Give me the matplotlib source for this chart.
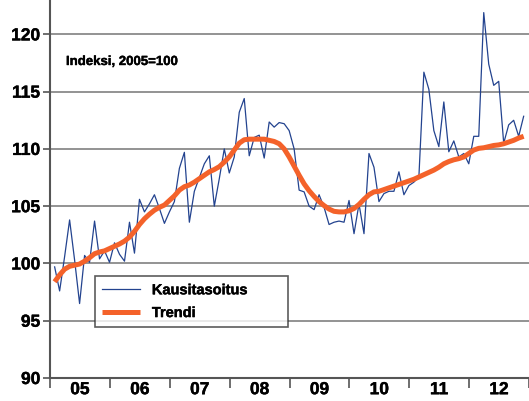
import matplotlib.pyplot as plt
from matplotlib import font_manager
import matplotlib.patheffects as pe
import numpy as np

# monthly index values, Jan 2005 .. Nov 2012
kausitasoitus = [
    99.7, 97.6, 100.6, 103.8, 100.3, 96.5, 100.7, 100.1, 103.7, 100.4, 101.1, 100.1,   # 2005
    101.8, 100.8, 100.2, 103.6, 100.9, 105.6, 104.5, 105.2, 106.0, 104.8, 103.5, 104.5,  # 2006
    105.4, 108.3, 109.7, 103.6, 106.3, 107.5, 108.7, 109.4, 105.0, 107.4, 110.0, 107.9,  # 2007
    109.3, 113.2, 114.4, 109.4, 111.0, 111.2, 109.2, 112.35, 111.9, 112.3, 112.2, 111.6,  # 2008
    110.0, 106.4, 106.25, 105.0, 104.7, 106.0, 104.9, 103.4, 103.6, 103.7, 103.6, 105.5,  # 2009
    102.6, 105.2, 102.6, 109.6, 108.4, 105.4, 106.1, 106.3, 106.3, 108.0, 106.0, 106.8,  # 2010
    107.1, 107.55, 116.7, 115.2, 111.6, 110.2, 114.1, 109.75, 110.7, 109.3, 109.6, 108.7,  # 2011
    111.1, 111.1, 121.9, 117.4, 115.55, 115.9, 110.5, 112.1, 112.5, 111.1, 112.85,  # 2012
]
trendi = [
    98.4, 99.0, 99.5, 99.75, 99.85, 99.95, 100.2, 100.5, 100.85, 101.0, 101.1, 101.3,
    101.5, 101.7, 101.95, 102.3, 102.8, 103.4, 103.9, 104.3, 104.65, 104.9, 105.1, 105.5,
    105.9, 106.4, 106.7, 106.85, 107.1, 107.4, 107.7, 108.0, 108.2, 108.45, 108.85, 109.3,
    109.9, 110.5, 110.8, 110.85, 110.85, 110.85, 110.85, 110.75, 110.65, 110.45, 110.0, 109.3,
    108.5, 107.7, 106.95, 106.35, 105.85, 105.4, 105.05, 104.75, 104.55, 104.5, 104.5, 104.6,
    104.8, 105.15, 105.6, 106.0, 106.25, 106.3, 106.45, 106.6, 106.75, 106.9, 107.05, 107.2,
    107.35, 107.55, 107.75, 107.95, 108.15, 108.4, 108.7, 108.9, 109.05, 109.15, 109.3, 109.6,
    109.9, 110.05, 110.1, 110.2, 110.3, 110.35, 110.45, 110.6, 110.75, 110.95, 111.1,
]
years = [2005, 2006, 2007, 2008, 2009, 2010, 2011, 2012]
year_labels = ["05", "06", "07", "08", "09", "10", "11", "12"]

# pick a sans family that really has a bold face
family = "DejaVu Sans"
has_bold = False
for fam in ["Liberation Sans", "Roboto", "Open Sans", "Noto Sans", "Lato"]:
    try:
        f = font_manager.findfont(font_manager.FontProperties(family=fam, weight="bold"),
                                  fallback_to_default=False)
    except Exception:
        continue
    family = fam
    has_bold = "bold" in f.lower()
    break
plt.rcParams["font.family"] = [family, "DejaVu Sans"]
plt.rcParams["font.weight"] = "bold"

# a thin stroke thickens the glyphs a bit if no real bold face is there
fat = [pe.withStroke(linewidth=0.3 if has_bold else 0.9, foreground="black")]

x = 2005 + (np.arange(len(kausitasoitus)) + 0.93) / 12

fig = plt.figure(figsize=(5.29, 4.01), dpi=100)
ax = fig.add_axes([50 / 529, 23 / 401, 479 / 529, 378 / 401])

for y in [95, 100, 105, 110, 115, 120]:
    ax.axhline(y, color="#808080", lw=1.2, zorder=1)

ax.plot(x, kausitasoitus, color="#23438f", lw=0.9, zorder=3, label="Kausitasoitus")
ax.plot(x, trendi, color="#f4622a", lw=3.6, zorder=4, solid_capstyle="butt", label="Trendi")

ax.set_xlim(2005, 2013)
ax.set_ylim(90, 123)
ax.set_yticks([90, 95, 100, 105, 110, 115, 120])
ax.tick_params(axis="y", length=5, width=1.2, color="#555555", pad=2, labelsize=12.5)

ax.set_xticks(years + [2013])
ax.set_xticklabels([])
ax.set_xticks([y + 0.5 for y in years], minor=True)
ax.set_xticklabels(year_labels, minor=True)
ax.tick_params(axis="x", which="major", length=7, width=1.2, color="#555555")
ax.tick_params(axis="x", which="minor", length=0, pad=3, labelsize=12.5)
for lab in ax.get_yticklabels() + ax.get_xticklabels(minor=True):
    lab.set_fontweight("bold")
    lab.set_path_effects(fat)

for s in ["top", "right"]:
    ax.spines[s].set_visible(False)
for s in ["left", "bottom"]:
    ax.spines[s].set_color("#555555")
    ax.spines[s].set_linewidth(1.5)

fig.text(66 / 529, 1 - 62 / 401, "Indeksi, 2005=100", fontsize=9.5, fontweight="bold",
         va="center", ha="left", path_effects=fat)

leg = ax.legend(loc="upper left", bbox_to_anchor=(45 / 479, (378 - 330) / 378, 193 / 479, 54 / 378),
                mode="expand", frameon=True, fancybox=False, edgecolor="#333333",
                fontsize=10.5, handlelength=2.6, borderpad=0.5, labelspacing=0.6,
                borderaxespad=0)
leg.get_frame().set_linewidth(1.2)
for t in leg.get_texts():
    t.set_fontweight("bold")
    t.set_path_effects(fat)

fig.savefig("out.png", dpi=100)
